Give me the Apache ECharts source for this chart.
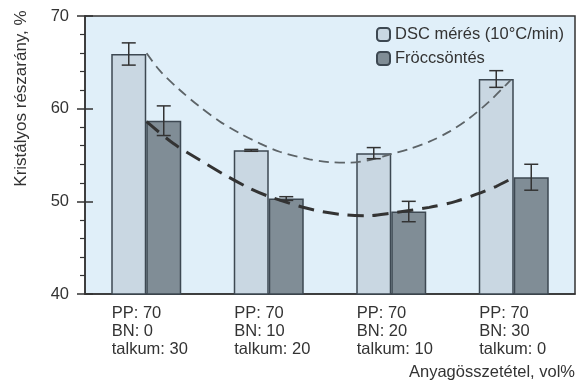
<!DOCTYPE html>
<html>
<head>
<meta charset="utf-8">
<script src="https://cdn.jsdelivr.net/npm/echarts@6/dist/echarts.min.js"></script>
<style>html,body{margin:0;padding:0;background:#fff}#c{width:581px;height:385px}</style>
</head>
<body>
<div id="c"></div>
<script>
const categories = [
  ['PP: 70', 'BN: 0', 'talkum: 30'],
  ['PP: 70', 'BN: 10', 'talkum: 20'],
  ['PP: 70', 'BN: 20', 'talkum: 10'],
  ['PP: 70', 'BN: 30', 'talkum: 0']
];
const seriesNames = ['DSC mérés (10°C/min)', 'Fröccsöntés'];
const dscValues = [65.9, 55.5, 55.2, 63.2];
const dscErrors = [1.2, 0.1, 0.6, 0.9];
const injValues = [58.7, 50.3, 48.9, 52.6];
const injErrors = [1.6, 0.2, 1.1, 1.4];
const yTicks = [40, 50, 60, 70];
// trend curves, x in category units (0..4), y in %
const dscTrend = [[0.503,65.97],[0.611,64.1],[0.774,62.01],[0.937,60.21],[1.100,58.62],[1.263,57.34],[1.426,56.26],[1.589,55.35],[1.833,54.54],[1.996,54.23],[2.159,54.17],[2.322,54.46],[2.485,55.05],[2.648,55.65],[2.811,56.44],[2.974,57.52],[3.137,58.96],[3.299,60.76],[3.435,62.55],[3.476,63.1]];
const injTrend = [[0.503,58.59],[0.719,56.26],[0.937,54.46],[1.154,52.75],[1.344,51.41],[1.507,50.5],[1.779,49.36],[1.941,48.88],[2.132,48.53],[2.322,48.45],[2.485,48.7],[2.811,49.35],[3.028,50.0],[3.191,50.75],[3.354,51.6],[3.489,52.5]];

const FONT = 'Liberation Sans, Arial, sans-serif';
const chart = echarts.init(document.getElementById('c'));

function errSeries(vals, errs, offset) {
  return {
    type: 'custom',
    xAxisIndex: 0, yAxisIndex: 0,
    data: vals.map((v, i) => [i, v, errs[i]]),
    z: 10,
    renderItem: function (params, api) {
      const i = api.value(0), v = api.value(1), e = api.value(2);
      const hi = api.coord([i, v + e]);
      const lo = api.coord([i, v - e]);
      const x = hi[0] + offset;
      const cw = 7;
      const st = { stroke: '#333', lineWidth: 1.5 };
      return { type: 'group', children: [
        { type: 'line', shape: { x1: x, y1: hi[1], x2: x, y2: lo[1] }, style: st },
        { type: 'line', shape: { x1: x - cw, y1: hi[1], x2: x + cw, y2: hi[1] }, style: st },
        { type: 'line', shape: { x1: x - cw, y1: lo[1], x2: x + cw, y2: lo[1] }, style: st }
      ]};
    }
  };
}

chart.setOption({
  animation: false,
  textStyle: { fontFamily: FONT },
  grid: { left: 85, right: 6, top: 16, bottom: 91, show: true, backgroundColor: '#e0eff9', borderColor: '#333', borderWidth: 1.5 },
  legend: {
    orient: 'vertical', left: 371, top: 21, itemWidth: 13, itemHeight: 13, itemGap: 7,
    textStyle: { fontSize: 16.5, color: '#333', fontFamily: FONT },
    data: seriesNames
  },
  xAxis: [{
    type: 'category', data: categories.map(c => c.join('\n')),
    axisLine: { lineStyle: { color: '#333', width: 1.5 } },
    axisTick: { length: 7, lineStyle: { color: '#333', width: 1.5 } },
    axisLabel: {
      interval: 0, margin: 10, color: '#333', fontSize: 16.5, align: 'center',
      formatter: v => v.split('\n').map(s => '{a|' + s + '}').join('\n'),
      rich: { a: { width: 69, align: 'left', fontSize: 16.5, lineHeight: 18.3, color: '#333', fontFamily: FONT } }
    },
    name: 'Anyagösszetétel, vol%', nameLocation: 'end', nameGap: 0,
    nameTextStyle: { fontSize: 16.5, color: '#333', align: 'right', verticalAlign: 'top', padding: [70, 0, 0, 0] }
  }, {
    type: 'value', min: 0, max: 4, show: false
  }],
  yAxis: [{
    type: 'value', min: 40, max: 70, interval: 10,
    axisLine: { show: true, lineStyle: { color: '#333', width: 1.5 } },
    axisTick: { show: true, length: 8, lineStyle: { color: '#333', width: 1.5 } },
    minorTick: { show: true, splitNumber: 5, length: 5, lineStyle: { color: '#333', width: 1.2 } },
    splitLine: { show: false },
    axisLabel: { margin: 16, fontSize: 16.5, color: '#333', formatter: v => yTicks.includes(v) ? String(v) : '' },
    name: 'Kristályos részarány, %', nameLocation: 'middle', nameGap: 55, nameRotate: 90,
    nameTextStyle: { fontSize: 17, color: '#333', padding: [0, 0, 0, 113] }
  }, {
    type: 'value', min: 40, max: 70, interval: 10, position: 'left', offset: 0,
    axisLine: { show: false },
    axisTick: { show: true, inside: true, length: 8, lineStyle: { color: '#333', width: 1.5 } },
    axisLabel: { show: false }, splitLine: { show: false }
  }],
  series: [
    { name: seriesNames[0], type: 'bar', data: dscValues, barWidth: 35, barGap: '0%',
      itemStyle: { color: '#c9d7e2', borderColor: '#3d4852', borderWidth: 1.5 } },
    { name: seriesNames[1], type: 'bar', data: injValues, barWidth: 35, barGap: '0%',
      itemStyle: { color: '#808d96', borderColor: '#3d4852', borderWidth: 1.5 } },
    { type: 'line', xAxisIndex: 1, yAxisIndex: 0, data: dscTrend, smooth: 0.3, symbol: 'none', z: 5,
      lineStyle: { color: '#5d6468', width: 1.8, type: [10, 6] } },
    { type: 'line', xAxisIndex: 1, yAxisIndex: 0, data: injTrend, smooth: 0.3, symbol: 'none', z: 5,
      lineStyle: { color: '#333', width: 3, type: [16, 9] } },
    errSeries(dscValues, dscErrors, -17.5),
    errSeries(injValues, injErrors, 17.5)
  ]
});
</script>
</body>
</html>
